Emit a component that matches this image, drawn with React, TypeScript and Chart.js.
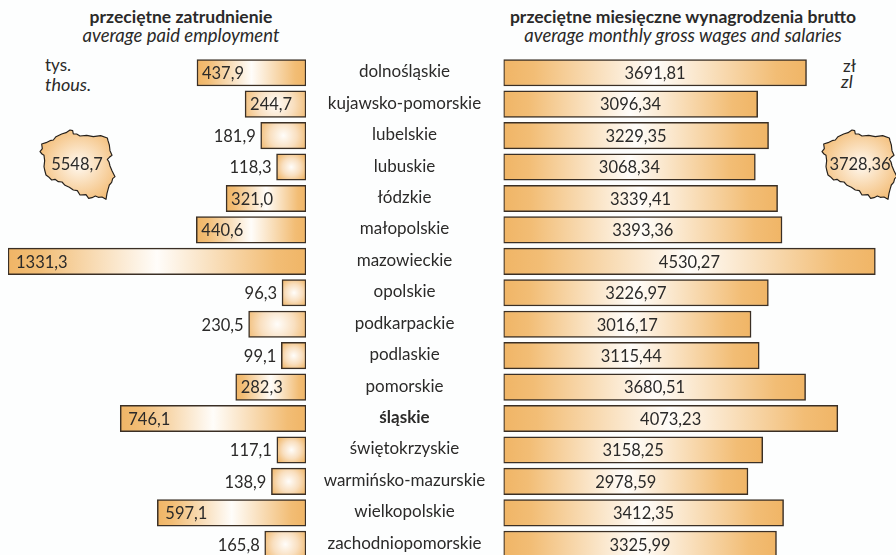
import React, { useEffect, useRef } from "react";
import { Chart, registerables } from "chart.js";

Chart.register(...registerables);

const voivodeships = ["dolnośląskie","kujawsko-pomorskie","lubelskie","lubuskie","łódzkie","małopolskie","mazowieckie","opolskie","podkarpackie","podlaskie","pomorskie","śląskie","świętokrzyskie","warmińsko-mazurskie","wielkopolskie","zachodniopomorskie"];
const employment = [437.9,244.7,181.9,118.3,321.0,440.6,1331.3,96.3,230.5,99.1,282.3,746.1,117.1,138.9,597.1,165.8];
const wages = [3691.81,3096.34,3229.35,3068.34,3339.41,3393.36,4530.27,3226.97,3016.17,3115.44,3680.51,4073.23,3158.25,2978.59,3412.35,3325.99];
const employmentTotal = "5548,7";
const wagesTotal = "3728,36";
// In the original, the mazowieckie employment bar is shortened to fit the page.
const employmentAxisMax = 1197;
const wagesAxisMax = 4782;

const FONT = "Lato, 'Open Sans', sans-serif";
const TEXT = "#2b2a29";
const ORANGE = "#f0b566";
const BORDER = "#3a2f25";
const MAP_PATH = "M35,72 L48,68 60,62 70,60 78,50 95,42 108,38 120,30 128,32 130,42 140,42 150,48 170,46 190,50 212,47 232,54 234,62 238,75 240,92 246,106 238,112 232,118 237,126 240,138 246,152 255,170 248,176 245,187 238,195 235,205 231,220 228,238 216,231 205,232 196,228 186,233 176,235 168,224 150,225 142,212 130,210 118,202 105,196 96,186 85,185 75,178 65,180 55,170 48,165 44,150 42,140 44,122 42,106 36,102 30,95 37,86 Z";

function fmt(v: number, d: number) {
  return v.toFixed(d).replace(".", ",");
}

function barFill(c: any) {
  const chart = c.chart;
  if (!chart.chartArea) return ORANGE;
  const value = c.raw ?? 0;
  const a = chart.scales.x.getPixelForValue(0);
  const b = chart.scales.x.getPixelForValue(value);
  const w = Math.abs(b - a);
  const ctx = chart.ctx;
  if (w < 70) {
    const cy = chart.scales.y.getPixelForValue(c.dataIndex);
    const g = ctx.createRadialGradient((a + b) / 2, cy, 0, (a + b) / 2, cy, Math.max(w * 0.6, 17));
    g.addColorStop(0, "#fffdfa");
    g.addColorStop(0.5, "#f9dfbf");
    g.addColorStop(1, ORANGE);
    return g;
  }
  const g = ctx.createLinearGradient(a, 0, b, 0);
  g.addColorStop(0, ORANGE);
  g.addColorStop(0.1, "#f2bd75");
  g.addColorStop(0.5, "#fffdfa");
  g.addColorStop(0.9, "#f2bd75");
  g.addColorStop(1, ORANGE);
  return g;
}

const leftLabels = {
  id: "leftLabels",
  afterDatasetsDraw(chart: any) {
    const { ctx } = chart;
    const meta = chart.getDatasetMeta(0);
    ctx.save();
    ctx.font = `16.5px ${FONT}`;
    ctx.fillStyle = TEXT;
    ctx.textBaseline = "middle";
    meta.data.forEach((bar: any, i: number) => {
      const v = employment[i];
      const text = fmt(v, 1);
      const left = Math.min(bar.x, bar.base);
      if (v >= 240) {
        ctx.textAlign = "left";
        ctx.fillText(text, left + (v > 500 ? 8 : 5), bar.y + 1);
      } else {
        ctx.textAlign = "right";
        ctx.fillText(text, left - 5, bar.y + 1);
      }
    });
    ctx.restore();
  },
};

const rightLabels = {
  id: "rightLabels",
  afterDatasetsDraw(chart: any) {
    const { ctx, chartArea } = chart;
    const meta = chart.getDatasetMeta(0);
    ctx.save();
    ctx.fillStyle = TEXT;
    ctx.textBaseline = "middle";
    ctx.textAlign = "center";
    meta.data.forEach((bar: any, i: number) => {
      ctx.font = `16.5px ${FONT}`;
      ctx.fillText(fmt(wages[i], 2), (bar.x + bar.base) / 2, bar.y + 1);
      const name = voivodeships[i];
      ctx.font = `${name === "śląskie" ? "bold " : ""}17px ${FONT}`;
      ctx.fillText(name, chartArea.left - 99, bar.y - 1);
    });
    ctx.restore();
  },
};

function PolandMap({ left, gid, value, textX }: { left: number; gid: string; value: string; textX: number }) {
  return (
    <>
      <svg
        viewBox="0 0 270 270"
        width={90}
        height={90}
        style={{ position: "absolute", left, top: 120, overflow: "visible" }}
      >
        <defs>
          <radialGradient id={gid} cx="52%" cy="50%" r="55%">
            <stop offset="0%" stopColor="#fff9f1" />
            <stop offset="100%" stopColor="#f4c07d" />
          </radialGradient>
        </defs>
        <path d={MAP_PATH} fill={`url(#${gid})`} stroke="#26211c" strokeWidth={3.5} strokeLinejoin="round" />
      </svg>
      <div style={{ position: "absolute", left: textX, top: 153, width: 90, textAlign: "center", font: `16.5px ${FONT}`, color: TEXT, lineHeight: "22px" }}>
        {value}
      </div>
    </>
  );
}

function Label({ text, x, y, w, bold, italic, align, size }: any) {
  return (
    <div
      style={{
        position: "absolute",
        left: x,
        top: y,
        width: w,
        textAlign: align ?? "center",
        fontFamily: FONT,
        fontSize: size ?? 15,
        fontWeight: bold ? 700 : 400,
        fontStyle: italic ? "italic" : "normal",
        color: TEXT,
        lineHeight: "18px",
        whiteSpace: "nowrap",
      }}
    >
      {text}
    </div>
  );
}

export default function App() {
  const leftRef = useRef<HTMLCanvasElement>(null);
  const rightRef = useRef<HTMLCanvasElement>(null);

  useEffect(() => {
    document.body.style.margin = "0";
    document.body.style.overflow = "hidden";
    const left = new Chart(leftRef.current!, {
      type: "bar",
      data: {
        labels: voivodeships,
        datasets: [
          {
            data: employment.map((v) => Math.min(v, employmentAxisMax)),
            backgroundColor: barFill,
            borderColor: BORDER,
            borderWidth: 1.5,
            borderSkipped: false,
            barThickness: 26.5,
          },
        ],
      },
      options: {
        indexAxis: "y",
        animation: false,
        responsive: false,
        layout: { padding: 0 },
        plugins: { legend: { display: false }, tooltip: { enabled: false } },
        scales: {
          x: { display: false, reverse: true, min: 0, max: employmentAxisMax },
          y: { display: false },
        },
      },
      plugins: [leftLabels],
    } as any);
    const right = new Chart(rightRef.current!, {
      type: "bar",
      data: {
        labels: voivodeships,
        datasets: [
          {
            data: wages,
            backgroundColor: barFill,
            borderColor: BORDER,
            borderWidth: 1.5,
            borderSkipped: false,
            barThickness: 26.5,
          },
        ],
      },
      options: {
        indexAxis: "y",
        animation: false,
        responsive: false,
        layout: { padding: { left: 199.5 } },
        plugins: { legend: { display: false }, tooltip: { enabled: false } },
        scales: {
          x: { display: false, min: 0, max: wagesAxisMax },
          y: { display: false },
        },
      },
      plugins: [rightLabels],
    } as any);
    return () => {
      left.destroy();
      right.destroy();
    };
  }, []);

  return (
    <div style={{ position: "relative", width: 896, height: 555, overflow: "hidden", background: "#fdfefe" }}>
      <Label text="przeciętne zatrudnienie" x={31} y={8} w={300} bold size={17.5} />
      <Label text="average paid employment" x={31} y={26} w={300} italic size={18.5} />
      <Label text="przeciętne miesięczne wynagrodzenia brutto" x={483} y={8} w={400} bold size={17.5} />
      <Label text="average monthly gross wages and salaries" x={483} y={26} w={400} italic size={18.5} />
      <Label text="tys." x={45} y={56} w={60} align="left" size={17} />
      <Label text="thous." x={45} y={75} w={60} align="left" italic size={18} />
      <Label text="zł" x={843} y={57} w={20} align="left" size={17} />
      <Label text="zl" x={841} y={72} w={20} align="left" italic size={18} />
      <canvas ref={leftRef} width={298} height={503} style={{ position: "absolute", left: 7.5, top: 57 }} />
      <canvas ref={rightRef} width={592} height={503} style={{ position: "absolute", left: 304, top: 57 }} />
      <PolandMap left={30} gid="mapA" value={employmentTotal} textX={32} />
      <PolandMap left={812} gid="mapB" value={wagesTotal} textX={815} />
    </div>
  );
}
